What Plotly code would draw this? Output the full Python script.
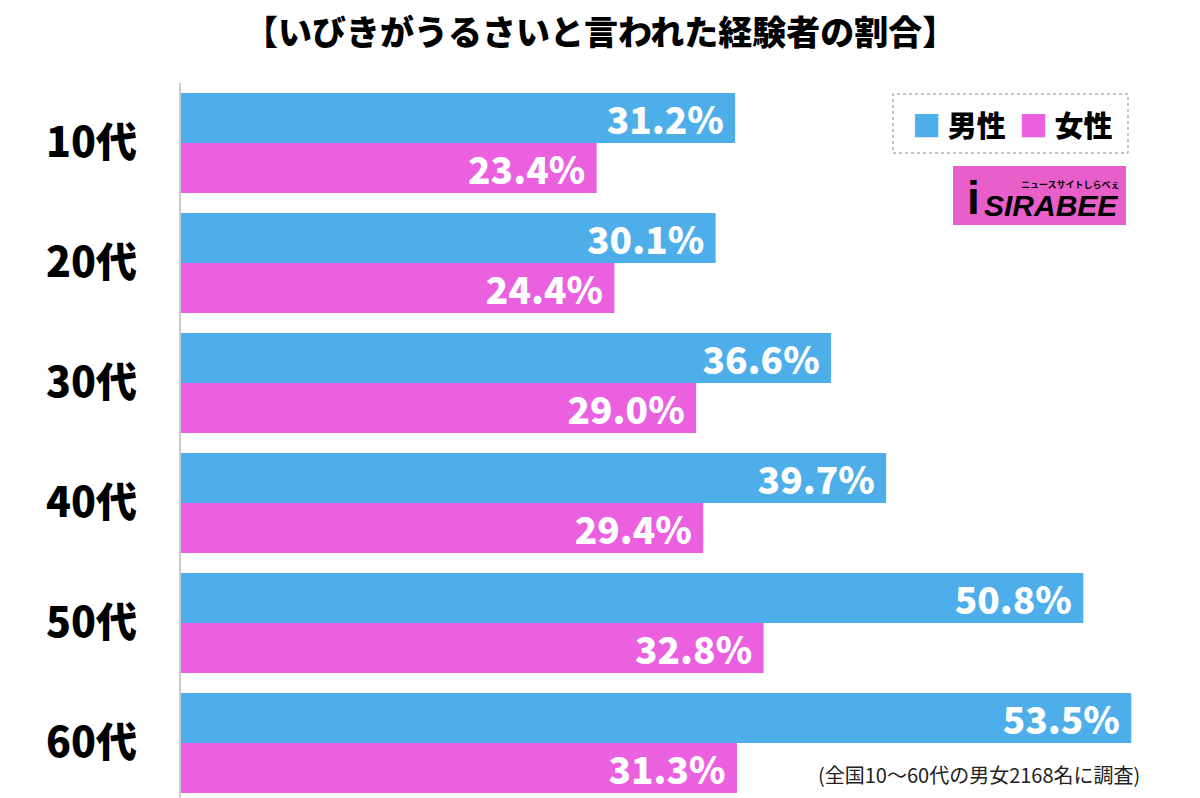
import plotly.graph_objects as go

categories = ["10代", "20代", "30代", "40代", "50代", "60代"]
male = [31.2, 30.1, 36.6, 39.7, 50.8, 53.5]
female = [23.4, 24.4, 29.0, 29.4, 32.8, 31.3]
series_names = ["男性", "女性"]
title = "【いびきがうるさいと言われた経験者の割合】"
note = "(全国10〜60代の男女2168名に調査)"

BLUE = "#4EAEEA"
PINK = "#EA60DF"
FONT = "Noto Sans CJK JP"

L, T, W, H = 181, 83, 1200, 798
PW, PH = W - L, H - T

def px(x):
    return (x - L) / PW

def py(y):
    return (PH - (y - T)) / PH

pos = list(range(len(categories)))

fig = go.Figure()
for name, vals, col in [(series_names[0], male, BLUE), (series_names[1], female, PINK)]:
    fig.add_trace(go.Bar(
        y=pos, x=vals, orientation="h", name=name,
        marker=dict(color=col, line=dict(width=0)),
        text=[f"{v:.1f}%\u00a0" for v in vals],
        textposition="inside", insidetextanchor="end",
        textfont=dict(family=FONT, size=37, color="white", weight=900),
        constraintext="none",
        showlegend=False,
    ))

fig.update_layout(
    width=W, height=H,
    margin=dict(l=L, r=0, t=T, b=0),
    paper_bgcolor="white", plot_bgcolor="white",
    barmode="group", bargap=1/6, bargroupgap=0,
    font=dict(family=FONT),
    xaxis=dict(range=[0, 57.37], showgrid=False, zeroline=False,
               showticklabels=False, ticks=""),
    yaxis=dict(range=[5.458, -0.5], tickvals=pos, ticktext=categories,
               showgrid=False, zeroline=False, ticks="",
               tickfont=dict(family=FONT, size=41, color="black", weight=900),
               ticklabelstandoff=34,
               showline=True, linecolor="#cccccc", linewidth=1.5),
)

# title
fig.add_annotation(text=title, xref="paper", yref="paper", x=px(600), y=py(31),
                   xanchor="center", yanchor="middle", showarrow=False,
                   font=dict(family=FONT, size=34, color="black", weight=900))
# legend box (dotted)
fig.add_shape(type="rect", xref="paper", yref="paper",
              x0=px(893), x1=px(1128), y0=py(153), y1=py(94),
              line=dict(color="#888888", width=1, dash="dot"), fillcolor="white")
legend_text = (f"<span style='color:{BLUE}'>■</span> {series_names[0]}  "
               f"<span style='color:{PINK}'>■</span> {series_names[1]}")
fig.add_annotation(text=legend_text, xref="paper", yref="paper",
                   x=px(1012), y=py(124),
                   xanchor="center", yanchor="middle", showarrow=False,
                   font=dict(family=FONT, size=29, color="black", weight=900))
# logo
fig.add_shape(type="rect", xref="paper", yref="paper",
              x0=px(953), x1=px(1126), y0=py(225), y1=py(166),
              line=dict(width=0), fillcolor="#E85FC9")
fig.add_annotation(text="<b><i>SIRABEE</i></b>", xref="paper", yref="paper",
                   x=px(1051), y=py(205),
                   xanchor="center", yanchor="middle", showarrow=False,
                   font=dict(family="Liberation Sans", size=30, color="black"))
fig.add_annotation(text="<b>ニュースサイトしらべぇ</b>", xref="paper", yref="paper",
                   x=px(1070), y=py(184),
                   xanchor="center", yanchor="middle", showarrow=False,
                   font=dict(family=FONT, size=9, color="black"))
fig.add_annotation(text="<b>i</b>", xref="paper", yref="paper",
                   x=px(973), y=py(198),
                   xanchor="center", yanchor="middle", showarrow=False,
                   font=dict(family="Liberation Sans", size=46, color="black"))
# footnote
fig.add_annotation(text=note, xref="paper", yref="paper",
                   x=px(1142), y=py(774),
                   xanchor="right", yanchor="middle", showarrow=False,
                   font=dict(family=FONT, size=20, color="#222222"))

fig.write_html("out.html", config={"displayModeBar": False},
               post_script="document.body.style.margin='0';")
